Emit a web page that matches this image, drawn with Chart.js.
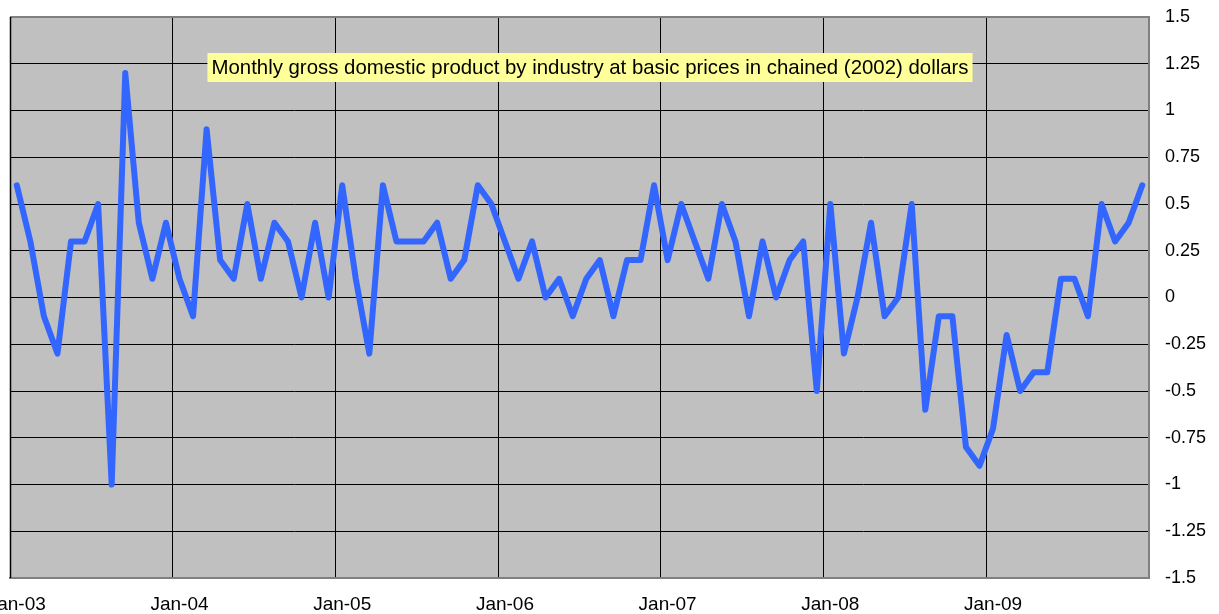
<!DOCTYPE html>
<html>
<head>
<meta charset="utf-8">
<title>Monthly GDP by industry</title>
<script src="https://cdn.jsdelivr.net/npm/chart.js@4"></script>
<style>
  html, body { margin: 0; padding: 0; background: #fff; }
  canvas { display: block; }
</style>
</head>
<body>
<canvas id="gdpChart" width="1219" height="614"></canvas>
<script>
// categories
const YEARS = ["03", "04", "05", "06", "07", "08", "09"];
const MONTHS = ["Jan", "Feb", "Mar", "Apr", "May", "Jun", "Jul", "Aug", "Sep", "Oct", "Nov", "Dec"];
const TICK_LABELS = ["Jan-03", "Jan-04", "Jan-05", "Jan-06", "Jan-07", "Jan-08", "Jan-09"];

// monthly change, % (one array per year)
const GDP_2003 = [0.6, 0.3, -0.1, -0.3, 0.3, 0.3, 0.5, -1.0, 1.2, 0.4, 0.1, 0.4];
const GDP_2004 = [0.1, -0.1, 0.9, 0.2, 0.1, 0.5, 0.1, 0.4, 0.3, 0.0, 0.4, 0.0];
const GDP_2005 = [0.6, 0.1, -0.3, 0.6, 0.3, 0.3, 0.3, 0.4, 0.1, 0.2, 0.6, 0.5];
const GDP_2006 = [0.3, 0.1, 0.3, 0.0, 0.1, -0.1, 0.1, 0.2, -0.1, 0.2, 0.2, 0.6];
const GDP_2007 = [0.2, 0.5, 0.3, 0.1, 0.5, 0.3, -0.1, 0.3, 0.0, 0.2, 0.3, -0.5];
const GDP_2008 = [0.5, -0.3, 0.0, 0.4, -0.1, 0.0, 0.5, -0.6, -0.1, -0.1, -0.8, -0.9];
const GDP_2009 = [-0.7, -0.2, -0.5, -0.4, -0.4, 0.1, 0.1, -0.1, 0.5, 0.3, 0.4, 0.6];

const Y_MIN = -1.5;
const Y_MAX = 1.5;
const Y_STEP = 0.25;

const CHART_TITLE = "Monthly gross domestic product by industry at basic prices in chained (2002) dollars";

const FONT_FAMILY = "'Liberation Sans', Arial, sans-serif";

// build the dataset
let labels = [];
YEARS.forEach((yy) => {
  MONTHS.forEach((mm) => {
    labels.push(mm + "-" + yy);
  });
});

let values = [].concat(GDP_2003, GDP_2004, GDP_2005, GDP_2006, GDP_2007, GDP_2008, GDP_2009);

// grey plot area + frame
const plotArea = {
  id: "plotArea",
  beforeDraw(chart) {
    const { ctx, chartArea: a } = chart;
    ctx.save();
    ctx.fillStyle = "#C0C0C0";
    ctx.fillRect(a.left, a.top, a.right - a.left, a.bottom - a.top);
    ctx.restore();
  },
  afterDraw(chart) {
    const { ctx, chartArea: a } = chart;
    ctx.save();
    // top edge
    ctx.strokeStyle = "#808080";
    ctx.lineWidth = 2;
    ctx.beginPath();
    ctx.moveTo(a.left, a.top);
    ctx.lineTo(a.right, a.top);
    ctx.stroke();
    // left edge
    ctx.strokeStyle = "#000";
    ctx.lineWidth = 1.5;
    ctx.beginPath();
    ctx.moveTo(a.left + 0.5, a.top);
    ctx.lineTo(a.left + 0.5, a.bottom);
    ctx.stroke();
    ctx.restore();
  },
};

// yellow title box inside the plot
const titleBox = {
  id: "titleBox",
  afterDraw(chart) {
    const { ctx, chartArea: a } = chart;
    ctx.save();
    ctx.font = "20.4px " + FONT_FAMILY;
    const w = ctx.measureText(CHART_TITLE).width;
    const cx = a.left + 580;
    const cy = a.top + 50.5;
    ctx.fillStyle = "#FFFF99";
    ctx.fillRect(cx - w / 2 - 4, cy - 14.5, w + 8, 29);
    ctx.fillStyle = "#000";
    ctx.textAlign = "center";
    ctx.textBaseline = "middle";
    ctx.fillText(CHART_TITLE, cx, cy + 1);
    ctx.restore();
  },
};

let ctx = document.getElementById("gdpChart").getContext("2d");

let myLineChart = new Chart(ctx, {
  type: "line",
  data: {
    labels: labels,
    datasets: [
      {
        data: values,
        borderColor: "#3366FF",
        borderWidth: 6,
        borderJoinStyle: "round",
        borderCapStyle: "round",
        pointRadius: 0,
        tension: 0,
        fill: false,
      },
    ],
  },
  options: {
    responsive: false,
    animation: false,
    layout: {
      padding: { left: 10, top: 17, right: 0, bottom: 0 },
    },
    plugins: {
      legend: { display: false },
      tooltip: { enabled: false },
      title: { display: false },
    },
    scales: {
      x: {
        type: "category",
        offset: true,
        grid: {
          offset: true,
          drawTicks: false,
          lineWidth: 1,
          color: (c) => (c.index % 12 === 0 && c.index < labels.length ? "#000" : "rgba(0,0,0,0)"),
        },
        border: { display: true, color: "#808080", width: 2 },
        ticks: {
          autoSkip: false,
          maxRotation: 0,
          padding: 15,
          color: "#000",
          font: { family: FONT_FAMILY, size: 19 },
          callback: function (value, index) {
            const lab = labels[index];
            return TICK_LABELS.includes(lab) ? lab : "";
          },
        },
        afterFit: (scale) => {
          // labels may run off the canvas edge, keep the plot where it is
          scale.height = 36;
          scale.paddingLeft = 0;
          scale.paddingRight = 0;
        },
      },
      y: {
        position: "right",
        min: Y_MIN,
        max: Y_MAX,
        grid: {
          drawTicks: false,
          lineWidth: 1,
          color: (c) => (c.tick && (c.tick.value === Y_MIN || c.tick.value === Y_MAX) ? "rgba(0,0,0,0)" : "#000"),
        },
        border: { display: true, color: "#808080", width: 2 },
        ticks: {
          stepSize: Y_STEP,
          padding: 16,
          color: "#000",
          font: { family: FONT_FAMILY, size: 18 },
          callback: (value) => String(value),
        },
        afterFit: (scale) => {
          scale.width = 70;
          scale.paddingTop = 0;
          scale.paddingBottom = 0;
        },
      },
    },
  },
  plugins: [plotArea, titleBox],
});
</script>
</body>
</html>
